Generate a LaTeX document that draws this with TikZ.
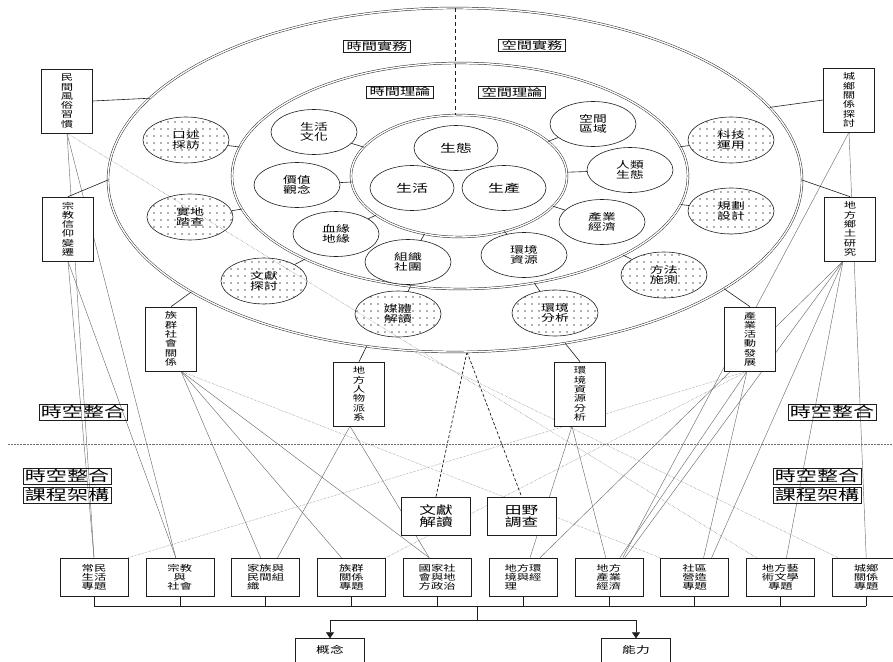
\documentclass[tikz,border=0pt]{standalone}
\usepackage{fontspec}
\setmainfont{Noto Sans CJK TC}[FakeStretch=1.45]
\usepackage{graphicx}
\usepackage{xcolor}
\definecolor{inkDark}{HTML}{1E1E1E}
\definecolor{linkGray}{HTML}{6E6E6E}
\usepackage{tikz}
\usetikzlibrary{shapes.geometric,positioning,arrows.meta,patterns.meta,backgrounds}
\tikzset{%
  ringLine/.style={%
    ellipse,
    draw=inkDark,
    double,
    double distance=1.4pt,
    line width=0.45pt,
    inner sep=0pt,
    outer sep=0pt
  },
  themeEllipse/.style={%
    ellipse,
    draw=inkDark,
    fill=white,
    line width=0.6pt,
    minimum width=86pt,
    minimum height=45pt,
    inner sep=0pt,
    align=center,
    font=\fontsize{9.5}{10.5}\selectfont
  },
  coreEllipse/.style={%
    themeEllipse,
    minimum width=84pt,
    font=\fontsize{11}{12}\selectfont
  },
  methodEllipse/.style={%
    ellipse,
    draw=inkDark,
    line width=0.6pt,
    pattern={Dots[distance=7pt,radius=0.8pt]},
    pattern color=inkDark!70,
    minimum width=86pt,
    minimum height=46pt,
    inner sep=0pt,
    align=center,
    font=\fontsize{9.5}{10.5}\selectfont
  },
  aspectBox/.style={%
    rectangle,
    draw=inkDark,
    fill=white,
    line width=0.6pt,
    minimum width=51pt,
    minimum height=64pt,
    inner sep=1pt,
    align=center,
    font=\fontsize{8.5}{9.3}\selectfont
  },
  topicBox/.style={%
    rectangle,
    draw=inkDark,
    fill=white,
    line width=0.6pt,
    minimum width=68pt,
    minimum height=38pt,
    inner sep=1pt,
    align=center,
    font=\fontsize{8.5}{9}\selectfont
  },
  sourceBox/.style={%
    topicBox,
    minimum width=69pt,
    font=\fontsize{11.5}{12}\selectfont
  },
  outcomeBox/.style={%
    rectangle,
    minimum width=69pt,
    minimum height=23pt,
    inner sep=0pt,
    font=\fontsize{9.5}{10}\selectfont
  },
  tagBox/.style={%
    rectangle,
    draw=inkDark,
    line width=0.4pt,
    inner xsep=3pt,
    inner ysep=1pt,
    font=\fontsize{10.5}{11}\selectfont
  },
  bigTag/.style={%
    tagBox,
    inner xsep=2pt,
    font=\fontsize{14.5}{15}\selectfont
  },
  linkLine/.style={%
    draw=inkDark,
    line width=0.6pt
  },
  thinLink/.style={%
    draw=linkGray,
    line width=0.45pt
  },
  dotLink/.style={%
    thinLink,
    densely dotted
  },
  dashLink/.style={%
    draw=inkDark,
    line width=0.7pt,
    dash pattern=on 3pt off 2pt
  },
  arrowLine/.style={%
    -{Triangle[length=6pt,width=8pt]},
    draw=inkDark,
    line width=0.6pt
  }
}

\begin{document}
\begin{tikzpicture}[x=1pt,y=-1pt]
            \useasboundingbox (0,0) rectangle (893,661);

            \node[ringLine, minimum width=694pt, minimum height=344pt] (outer) at (455,180) {};
            \node[ringLine, minimum width=456pt, minimum height=226pt] (middle) at (460,176) {};
            \node[ringLine, minimum width=216pt, minimum height=122pt] (inner) at (459,176) {};
            \draw[inkDark, line width=0.5pt, dash pattern=on 4pt off 3pt] (outer.north) -- (outer.north |- inner.north);

            \node[tagBox] (timePractice) at (377,46) {時間實務};
            \node[tagBox] (spacePractice) at (532,45) {空間實務};
            \node[tagBox] (timeTheory) at (400,92) {時間理論};
            \node[tagBox] (spaceTheory) at (512,92) {空間理論};

            \node[coreEllipse] (ecology) at (456,148) {生態};
            \node[coreEllipse] (living) at (412,188) {生活};
            \node[coreEllipse] (production) at (504,188) {生產};

            \node[themeEllipse] (culture) at (314,132) {生活\\文化};
            \node[themeEllipse] (values) at (297,185) {價值\\觀念};
            \node[themeEllipse] (kinship) at (336,234) {血緣\\地緣};
            \node[themeEllipse] (groups) at (408,262) {組織\\社團};
            \node[themeEllipse] (envRes) at (524,255) {環境\\資源};
            \node[themeEllipse] (economy) at (602,222) {產業\\經濟};
            \node[themeEllipse] (humanEco) at (630,170) {人類\\生態};
            \node[themeEllipse] (region) at (593,124) {空間\\區域};

            \node[methodEllipse] (oral) at (186,140) {口述\\採訪};
            \node[methodEllipse] (fieldWalk) at (190,217) {實地\\踏查};
            \node[methodEllipse] (literature) at (264,281) {文獻\\探討};
            \node[methodEllipse] (media) at (398,314) {媒體\\解讀};
            \node[methodEllipse] (envAnalysis) at (555,313) {環境\\分析};
            \node[methodEllipse] (testing) at (664,275) {方法\\施測};
            \node[methodEllipse] (planning) at (731,211) {規劃\\設計};
            \node[methodEllipse] (tech) at (731,140) {科技\\運用};

            \node[aspectBox] (folk) at (67,101) {民\\間\\風\\俗\\習\\慣};
            \node[aspectBox] (religion) at (68,229) {宗\\教\\信\\仰\\變\\遷};
            \node[aspectBox] (ethnic) at (171,339) {族\\群\\社\\會\\關\\係};
            \node[aspectBox] (figures) at (359,394) {地\\方\\人\\物\\派\\系};
            \node[aspectBox] (resource) at (580,394) {環\\境\\資\\源\\分\\析};
            \node[aspectBox] (industry) at (750,339) {產\\業\\活\\動\\發\\展};
            \node[aspectBox] (urbanRural) at (849,100) {城\\鄉\\關\\係\\探\\討};
            \node[aspectBox] (localStudy) at (850,229) {地\\方\\鄉\\土\\研\\究};

            \node[sourceBox] (wenxian) at (436,516) {文獻\\解讀};
            \node[sourceBox, right=16pt of wenxian] (tianye) {田野\\調查};

            \node[topicBox] (changmin) at (94,577) {常民\\生活\\專題};
            \node[topicBox, right=17.2pt of changmin] (zongshe) {宗教\\與\\社會};
            \node[topicBox, right=17.2pt of zongshe, align=left] (jiazu) {家族與\\民間組\\織};
            \node[topicBox, right=17.2pt of jiazu] (zuqunZt) {族群\\關係\\專題};
            \node[topicBox, right=17.2pt of zuqunZt] (guojia) {國家社\\會與地\\方政治};
            \node[topicBox, right=17.2pt of guojia, align=left] (huanjingZt) {地方環\\境與經\\理};
            \node[topicBox, right=17.2pt of huanjingZt] (chanjing) {地方\\產業\\經濟};
            \node[topicBox, right=17.2pt of chanjing] (shequ) {社區\\營造\\專題};
            \node[topicBox, right=17.2pt of shequ] (yiwen) {地方藝\\術文學\\專題};
            \node[topicBox, right=17.2pt of yiwen] (chengxiangZt) {城鄉\\關係\\專題};

            \node[bigTag] (mergeLeftA) at (83,412) {時空整合};
            \node[bigTag] (mergeRightA) at (832,412) {時空整合};
            \node[bigTag] (mergeLeftB) at (67,476) {時空整合};
            \node[bigTag] (frameLeft) at (67,495) {課程架構};
            \node[bigTag] (mergeRightB) at (817,476) {時空整合};
            \node[bigTag] (frameRight) at (817,495) {課程架構};

            \node[outcomeBox] (gainian) at (330,650) {概念};
            \node[outcomeBox] (nengli) at (636,650) {能力};

            \coordinate (sepLeft) at (8,444);
            \coordinate (sepRight) at (893,444);
            \coordinate (busMid) at (477,606);
            \coordinate (split) at (477,620);

            \draw[linkLine] (culture) -- (inner);
            \draw[linkLine] (values) -- (inner);
            \draw[linkLine] (kinship) -- (inner);
            \draw[linkLine] (groups) -- (inner);
            \draw[linkLine] (envRes) -- (inner);
            \draw[linkLine] (economy) -- (inner);
            \draw[linkLine] (humanEco) -- (inner);
            \draw[linkLine] (region) -- (inner);

            \draw[linkLine] (oral) -- (middle);
            \draw[linkLine] (fieldWalk) -- (middle);
            \draw[linkLine] (literature) -- (middle);
            \draw[linkLine] (media) -- (middle);
            \draw[linkLine] (envAnalysis) -- (middle);
            \draw[linkLine] (testing) -- (middle);
            \draw[linkLine] (planning) -- (middle);
            \draw[linkLine] (tech) -- (middle);

            \draw[linkLine] (folk.east) -- (outer.165);
            \draw[linkLine] (religion.north) -- (outer.180);
            \draw[linkLine] (ethnic.north) -- (outer.203);
            \draw[linkLine] (figures.north) -- (outer.242);
            \draw[linkLine] (resource.north) -- (outer.-56);
            \draw[linkLine] (industry.north) -- (outer.-22);
            \draw[linkLine] (urbanRural.west) -- (outer.13);
            \draw[linkLine] (localStudy.north) -- (outer.0);

            \begin{scope}[on background layer]
            \draw[dotLink] (sepLeft) -- (sepRight);
            \draw[thinLink] (folk.south) -- (changmin.north);
            \draw[thinLink] (folk.south) -- ([xshift=-4pt]zongshe.north);
            \draw[dotLink] (folk.south) -- ([xshift=-24pt]yiwen.north);
            \draw[thinLink] (religion.south) -- (changmin.north);
            \draw[thinLink] (religion.south) -- ([xshift=-4pt]zongshe.north);
            \draw[thinLink] ([xshift=10pt]ethnic.south) -- ([xshift=-5pt]jiazu.north);
            \draw[thinLink] ([xshift=10pt]ethnic.south) -- ([xshift=-10pt]zuqunZt.north);
            \draw[thinLink] ([xshift=10pt]ethnic.south) -- ([xshift=-8pt]guojia.north);
            \draw[dotLink] ([xshift=10pt]ethnic.south) -- (shequ.north west);
            \draw[thinLink] ([xshift=-9pt]figures.south) -- ([xshift=12pt]jiazu.north);
            \draw[thinLink] ([xshift=-9pt]figures.south) -- ([xshift=-8pt]guojia.north);
            \draw[dotLink] (changmin.north east) -- ([xshift=-3pt]industry.south);
            \draw[dotLink] (zuqunZt.north east) -- ([xshift=-3pt]industry.south);
            \draw[thinLink] ([xshift=-8pt]resource.south) -- ([xshift=7pt]huanjingZt.north);
            \draw[thinLink] ([xshift=-8pt]resource.south) -- ([xshift=-3pt]chanjing.north);
            \draw[thinLink] ([xshift=-3pt]industry.south) -- ([xshift=11pt]chanjing.north);
            \draw[thinLink] ([xshift=-3pt]industry.south) -- ([xshift=9pt]shequ.north);
            \draw[thinLink] (urbanRural.south) -- ([xshift=14pt]chanjing.north);
            \draw[thinLink] (urbanRural.south) -- (chengxiangZt.north);
            \draw[thinLink] ([xshift=-7pt]localStudy.south) -- ([xshift=17pt]huanjingZt.north);
            \draw[thinLink] ([xshift=-7pt]localStudy.south) -- ([xshift=16pt]chanjing.north);
            \draw[thinLink] ([xshift=-7pt]localStudy.south) -- ([xshift=17pt]shequ.north);
            \draw[thinLink] ([xshift=-7pt]localStudy.south) -- ([xshift=6pt]yiwen.north);
            \draw[dotLink] (outer.-104) -- ([xshift=-28pt]chengxiangZt.north);
            \draw[dashLink] (outer.-86) -- (wenxian.north);
            \draw[dashLink] (outer.-86) -- (tianye.north);
            \end{scope}

            \foreach \topic in {changmin,zongshe,jiazu,zuqunZt,guojia,huanjingZt,chanjing,shequ,yiwen,chengxiangZt}
                \draw[linkLine] (\topic.south) -- ++(0,10);
            \draw[linkLine] ([yshift=-10pt]changmin.south) -- ([yshift=-10pt]chengxiangZt.south);
            \draw[linkLine] (busMid) -- (split);
            \draw[arrowLine] (split) -| (gainian.north);
            \draw[arrowLine] (split) -| (nengli.north);
            \draw[linkLine] (gainian.south west) -- (gainian.north west) -- (gainian.north east) -- (gainian.south east);
            \draw[linkLine] (nengli.south west) -- (nengli.north west) -- (nengli.north east) -- (nengli.south east);
        \end{tikzpicture}
\end{document}
